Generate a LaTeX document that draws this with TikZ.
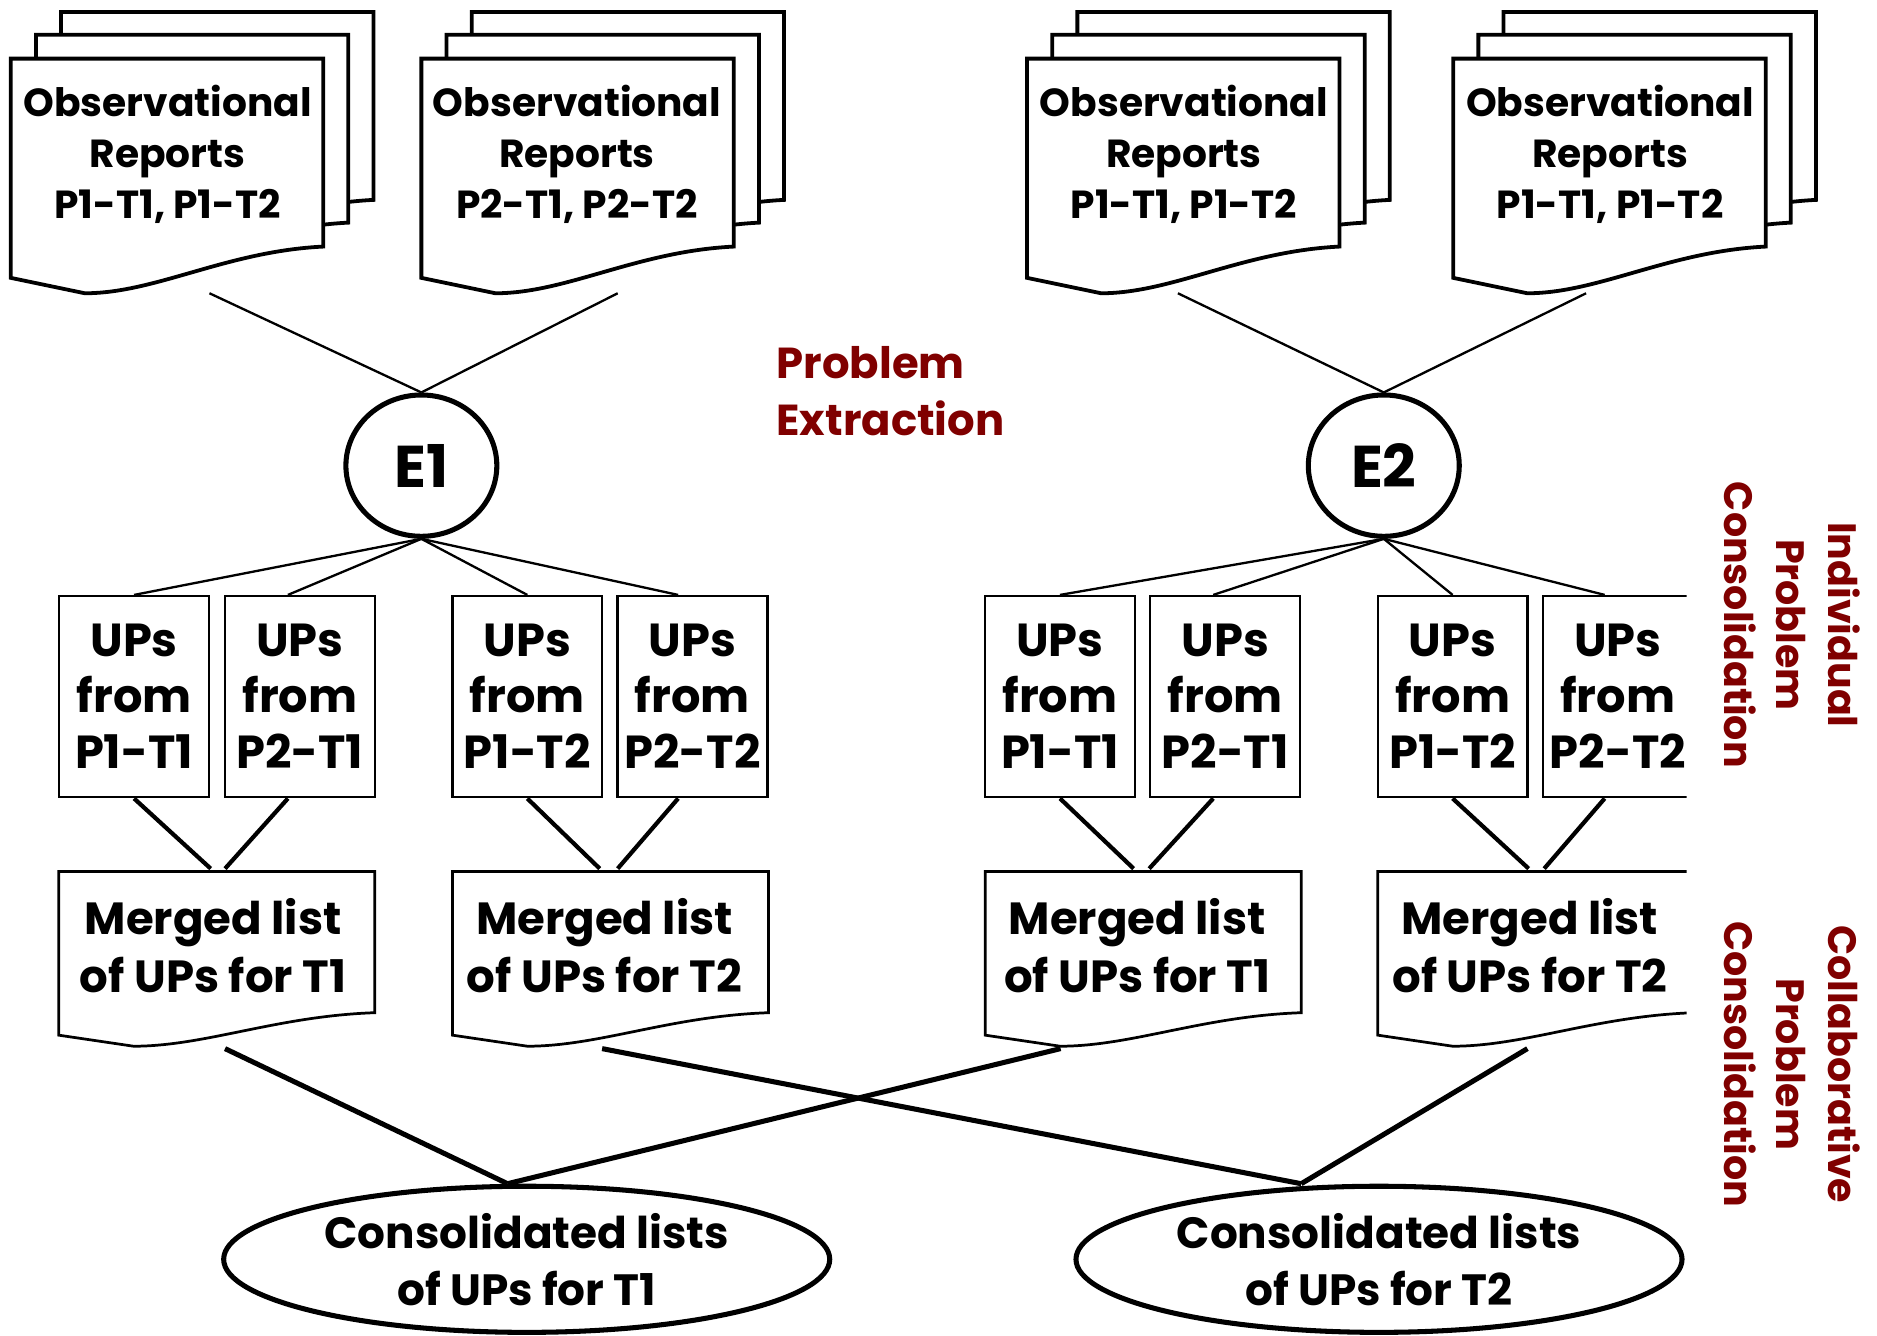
\documentclass[tikz,border=0pt]{standalone}
\usepackage{fontspec}
\setmainfont{Poppins}
\usepackage{xcolor}
\usepackage{tikz}
\usetikzlibrary{calc, shapes.geometric}
\definecolor{phasered}{HTML}{800000}

% page with a wavy bottom: [style] x0, top, width, height at right, wave depth
\newcommand{\docpage}[6][]{%
  \draw[pageline,#1] (#2,#3) -- ({#2+#4},#3) -- ({#2+#4},{#3+#5})
    .. controls ({#2+0.69*#4},{#3+#5+0.1*#6}) and ({#2+0.464*#4},{#3+#5+#6}) .. ({#2+0.237*#4},{#3+#5+#6})
    -- (#2,{#3+#5+0.67*#6}) -- cycle;}

\tikzset{
  pageline/.style={draw=black, line width=0.9pt, fill=white, line join=miter},
  doctext/.style={align=center, inner sep=0pt, font=\fontsize{9.3}{12.2}\selectfont\bfseries},
  expert/.style={ellipse, draw, line width=1.2pt, fill=white, minimum width=1.26cm, minimum height=1.18cm, inner sep=0pt, font=\fontsize{14}{16}\selectfont\bfseries},
  upbox/.style={draw, line width=0.55pt, minimum width=1.25cm, minimum height=1.68cm, align=center, inner sep=0pt, font=\fontsize{11}{13.3}\selectfont\bfseries},
  mergetext/.style={align=center, inner sep=0pt, font=\fontsize{10.7}{13.9}\selectfont\bfseries},
  consol/.style={ellipse, draw, line width=1.2pt, minimum width=5.06cm, minimum height=1.22cm, inner sep=0pt, align=center, font=\fontsize{10.4}{13.6}\selectfont\bfseries},
  phase/.style={text=phasered, inner sep=0pt, font=\fontsize{10.3}{13.6}\selectfont\bfseries},
  thinlink/.style={line width=0.55pt},
  thicklink/.style={line width=1pt},
  crosslink/.style={line width=1.2pt}
}

\begin{document}
\begin{tikzpicture}[x=0.01cm, y=-0.01cm]
  \useasboundingbox (0,0) rectangle (1568,1116);
  % observational report stacks
  \docpage{51}{10}{261}{157}{39}\docpage{30}{29}{261}{157}{39}\docpage{9}{49}{261}{157}{39}
  \docpage{394}{10}{261}{157}{39}\docpage{373}{29}{261}{157}{39}\docpage{352}{49}{261}{157}{39}
  \docpage{900}{10}{261}{157}{39}\docpage{879}{29}{261}{157}{39}\docpage{858}{49}{261}{157}{39}
  \docpage{1256}{10}{261}{157}{39}\docpage{1235}{29}{261}{157}{39}\docpage{1214}{49}{261}{157}{39}
  \node[doctext] (obsA) at (140,129) {Observational\\Reports\\P1-T1, P1-T2};
  \node[doctext] (obsB) at (482,129) {Observational\\Reports\\P2-T1, P2-T2};
  \node[doctext] (obsC) at (989,129) {Observational\\Reports\\P1-T1, P1-T2};
  \node[doctext] (obsD) at (1345,129) {Observational\\Reports\\P1-T1, P1-T2};
  % evaluators
  \node[expert] (E1) at (352,389) {E1};
  \node[expert] (E2) at (1156,389) {E2};
  \draw[thinlink] ($(obsA)+(35,116)$) -- (E1.north);
  \draw[thinlink] ($(obsB)+(34,116)$) -- (E1.north);
  \draw[thinlink] ($(obsC)+(-5,116)$) -- (E2.north);
  \draw[thinlink] ($(obsD)+(-20,116)$) -- (E2.north);
  \begin{scope}
    \clip (0,460) rectangle (1409,900);
    % individual UP lists
    \node[upbox] (upA) at (112,582) {UPs\\from\\P1-T1};
    \node[upbox] (upB) at (250.5,582) {UPs\\from\\P2-T1};
    \node[upbox] (upC) at (440.5,582) {UPs\\from\\P1-T2};
    \node[upbox] (upD) at (578.5,582) {UPs\\from\\P2-T2};
    \node[upbox] (upE) at (885.5,582) {UPs\\from\\P1-T1};
    \node[upbox] (upF) at (1023.5,582) {UPs\\from\\P2-T1};
    \node[upbox] (upG) at (1213.5,582) {UPs\\from\\P1-T2};
    \node[upbox] (upH) at (1351.5,582) {UPs\\from\\P2-T2};
    % merged lists
    \docpage[line width=0.65pt]{49}{728}{264}{118}{28}
    \docpage[line width=0.65pt]{378}{728}{264}{118}{28}
    \docpage[line width=0.65pt]{823}{728}{264}{118}{28}
    \docpage[line width=0.65pt]{1151}{728}{264}{118}{28}
    \node[mergetext] (mergeA) at (178,790) {Merged list\\of UPs for T1};
    \node[mergetext] (mergeB) at (505,790) {Merged list\\of UPs for T2};
    \node[mergetext] (mergeC) at (950,790) {Merged list\\of UPs for T1};
    \node[mergetext] (mergeD) at (1278,790) {Merged list\\of UPs for T2};
    \draw[thicklink] (upA.south) -- ($(mergeA.north)+(-2,-24)$);
    \draw[thicklink] ($(upB.south)+(-10,0)$) -- ($(mergeA.north)+(10,-24)$);
    \draw[thicklink] (upC.south) -- ($(mergeB.north)+(-4,-24)$);
    \draw[thicklink] ($(upD.south)+(-12,0)$) -- ($(mergeB.north)+(11,-24)$);
    \draw[thicklink] (upE.south) -- ($(mergeC.north)+(-3,-24)$);
    \draw[thicklink] ($(upF.south)+(-10,0)$) -- ($(mergeC.north)+(10,-24)$);
    \draw[thicklink] (upG.south) -- ($(mergeD.north)+(-1,-24)$);
    \draw[thicklink] ($(upH.south)+(-11,0)$) -- ($(mergeD.north)+(12,-24)$);
  \end{scope}
  \draw[thinlink] (E1.south) -- (upA.north);
  \draw[thinlink] (E1.south) -- ($(upB.north)+(-10,0)$);
  \draw[thinlink] (E1.south) -- (upC.north);
  \draw[thinlink] (E1.south) -- ($(upD.north)+(-12,0)$);
  \draw[thinlink] (E2.south) -- (upE.north);
  \draw[thinlink] (E2.south) -- ($(upF.north)+(-10,0)$);
  \draw[thinlink] (E2.south) -- (upG.north);
  \draw[thinlink] (E2.south) -- ($(upH.north)+(-11,0)$);
  % consolidated lists
  \node[consol] (consA) at (440,1052) {Consolidated lists\\of UPs for T1};
  \node[consol] (consB) at (1152,1052) {Consolidated lists\\of UPs for T2};
  \draw[crosslink] ($(mergeA)+(10,86)$) -- ($(consA.north)+(-16,0)$);
  \draw[crosslink] ($(mergeC)+(-64,86)$) -- ($(consA.north)+(-16,0)$);
  \draw[crosslink] ($(mergeB)+(-2,86)$) -- ($(consB.north)+(-65,0)$);
  \draw[crosslink] ($(mergeD)+(-2,86)$) -- ($(consB.north)+(-65,0)$);
  % phase labels
  \node[phase, align=left, anchor=west] (extract) at (648,327) {Problem\\Extraction};
  \node[phase, align=center, rotate=-90, font=\fontsize{9.4}{12.4}\selectfont\bfseries] (indiv) at (1497,522) {Individual\\Problem\\Consolidation};
  \node[phase, align=center, rotate=-90, font=\fontsize{9.4}{12.4}\selectfont\bfseries] (collab) at (1497,889) {Collaborative\\Problem\\Consolidation};
\end{tikzpicture}
\end{document}
